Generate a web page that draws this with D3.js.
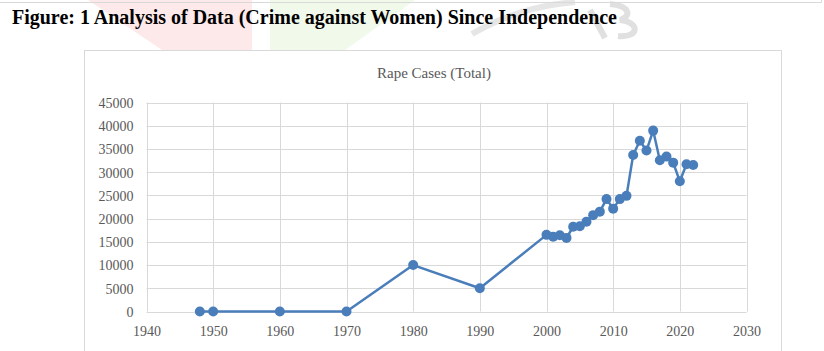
<!DOCTYPE html>
<html>
<head>
<meta charset="utf-8">
<script src="https://cdn.jsdelivr.net/npm/d3@7"></script>
<style>
  html, body { margin: 0; padding: 0; background: #fff; }
  svg { display: block; }
</style>
</head>
<body>
<div id="chart"></div>
<script>
(function() {
    'use strict';

    // data
    var years = [1948, 1950, 1960, 1970, 1980, 1990,
        2000, 2001, 2002, 2003, 2004, 2005, 2006, 2007, 2008, 2009, 2010,
        2011, 2012, 2013, 2014, 2015, 2016, 2017, 2018, 2019, 2020, 2021, 2022];
    var cases = [0, 0, 0, 0, 10000, 5000,
        16500, 16100, 16400, 15850, 18250, 18350, 19350, 20750, 21500, 24200, 22150,
        24200, 24900, 33700, 36750, 34650, 38950, 32550, 33350, 32050, 28050, 31700, 31550];
    var yTicks = [0, 5000, 10000, 15000, 20000, 25000, 30000, 35000, 40000, 45000];
    var xTicks = [1940, 1950, 1960, 1970, 1980, 1990, 2000, 2010, 2020, 2030];

    var width = 824, height = 351;
    var blue = '#4a7ebb';
    var grid = '#d9d9d9';
    var serif = '"Liberation Serif", "Times New Roman", serif';

    var svg = d3.select('#chart').append('svg')
        .attr('width', width)
        .attr('height', height);

    // faint watermark behind the page
    svg.append('path')
        .attr('d', 'M88,0 L252,0 L252,52 L165,52 Z')
        .attr('fill', '#fde9e9');
    svg.append('path')
        .attr('d', 'M270,0 L415,0 L345,50 L270,50 Z')
        .attr('fill', '#f0f9ea');
    svg.append('path')
        .attr('d', 'M472,34 C500,18 530,6 575,2')
        .attr('fill', 'none')
        .attr('stroke', '#e6e6e6')
        .attr('stroke-width', 6);
    svg.append('path')
        .attr('d', 'M610,4 C630,6 632,16 620,20 C640,22 640,38 618,36')
        .attr('fill', 'none')
        .attr('stroke', '#e0e0e0')
        .attr('stroke-width', 6);
    svg.append('path')
        .attr('d', 'M590,10 L605,38')
        .attr('fill', 'none')
        .attr('stroke', '#e0e0e0')
        .attr('stroke-width', 6);

    // bottom edge of the previous box
    svg.append('path')
        .attr('d', 'M0,2.5 L821.5,2.5 L821.5,-2')
        .attr('fill', 'none')
        .attr('stroke', '#d9d9d9');

    svg.append('text')
        .attr('x', 12)
        .attr('y', 24)
        .attr('font-family', serif)
        .attr('font-weight', 'bold')
        .attr('font-size', 20)
        .attr('fill', '#000')
        .attr('textLength', 605)
        .attr('lengthAdjust', 'spacingAndGlyphs')
        .text('Figure: 1 Analysis of Data (Crime against Women) Since Independence');

    // chart box
    svg.append('rect')
        .attr('x', 84.5)
        .attr('y', 50.5)
        .attr('width', 697)
        .attr('height', 310)
        .attr('fill', '#fff')
        .attr('stroke', '#d9d9d9');

    svg.append('text')
        .attr('x', 434)
        .attr('y', 78)
        .attr('text-anchor', 'middle')
        .attr('font-family', serif)
        .attr('font-size', 15)
        .attr('fill', '#595959')
        .text('Rape Cases (Total)');

    var x = d3.scaleLinear().domain([1940, 2030]).range([146.5, 746.5]);
    var y = d3.scaleLinear().domain([0, 45000]).range([311.5, 102.5]);

    var g = svg.append('g');

    g.selectAll('line.hgrid')
        .data(yTicks)
        .join('line')
        .attr('class', 'hgrid')
        .attr('x1', x(1940)).attr('x2', x(2030))
        .attr('y1', function(d) { return Math.round(y(d)) + 0.5; })
        .attr('y2', function(d) { return Math.round(y(d)) + 0.5; })
        .attr('stroke', grid);

    g.selectAll('line.vgrid')
        .data(xTicks)
        .join('line')
        .attr('class', 'vgrid')
        .attr('y1', y(0)).attr('y2', y(45000))
        .attr('x1', function(d) { return Math.round(x(d)) + 0.5; })
        .attr('x2', function(d) { return Math.round(x(d)) + 0.5; })
        .attr('stroke', grid);

    // axes (labels only, lines come from the grid)
    var yAxis = d3.axisLeft(y).tickValues(yTicks).tickSize(0).tickPadding(13)
        .tickFormat(d3.format('d'));
    var xAxis = d3.axisBottom(x).tickValues(xTicks).tickSize(0).tickPadding(15)
        .tickFormat(d3.format('d'));

    var ya = svg.append('g').attr('transform', 'translate(' + x(1940) + ',0)').call(yAxis);
    var xa = svg.append('g').attr('transform', 'translate(0,' + y(0) + ')').call(xAxis);
    [ya, xa].forEach(function(a) {
        a.select('.domain').remove();
        a.selectAll('text')
            .attr('font-family', serif)
            .attr('font-size', 14)
            .attr('fill', '#595959');
    });
    ya.selectAll('text').attr('dy', '0.35em');

    var pts = years.map(function(yr, i) { return [yr, cases[i]]; });

    var line = d3.line()
        .x(function(d) { return x(d[0]); })
        .y(function(d) { return y(d[1]); });

    g.append('path')
        .datum(pts)
        .attr('d', line)
        .attr('fill', 'none')
        .attr('stroke', blue)
        .attr('stroke-width', 2.5)
        .attr('stroke-linejoin', 'round');

    g.selectAll('circle')
        .data(pts)
        .join('circle')
        .attr('cx', function(d) { return x(d[0]); })
        .attr('cy', function(d) { return y(d[1]); })
        .attr('r', 5)
        .attr('fill', blue);
})();
</script>
</body>
</html>
